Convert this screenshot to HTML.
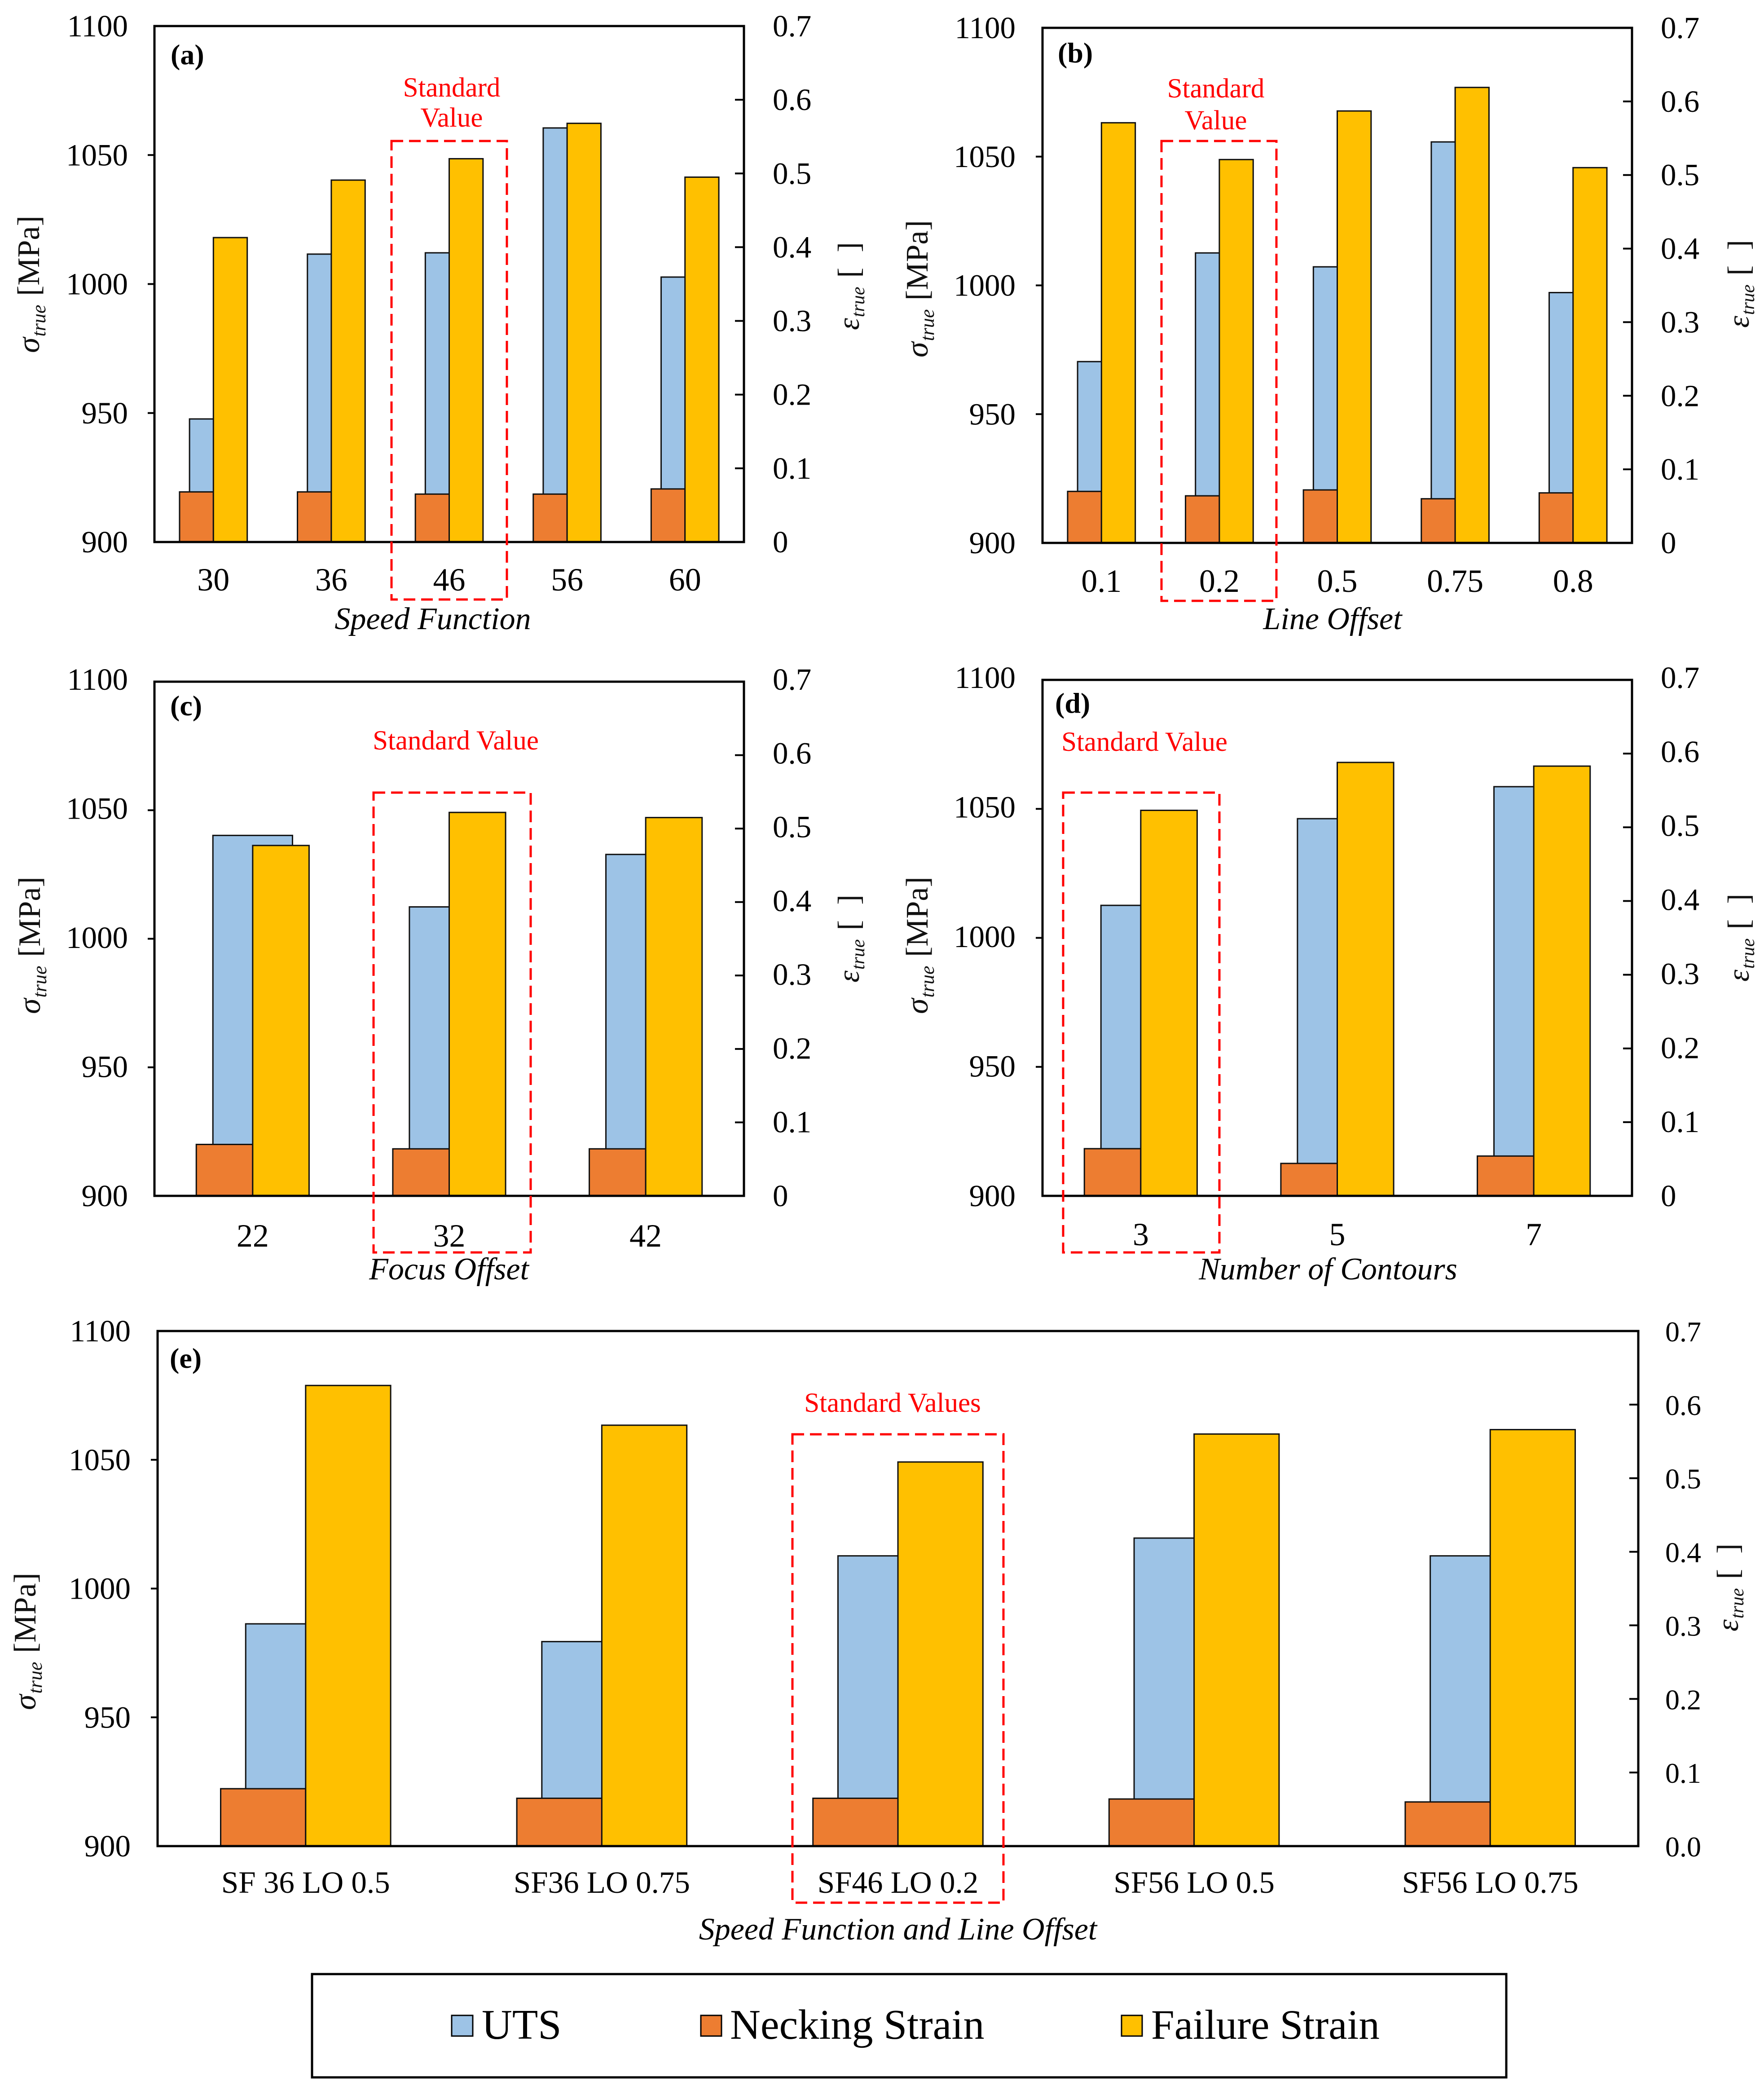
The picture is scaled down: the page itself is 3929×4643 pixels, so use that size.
<!DOCTYPE html>
<html lang="en">
<head>
<meta charset="utf-8">
<title>True stress and strain by process parameter</title>
<style>
html,body{margin:0;padding:0;background:#fff;}
svg{display:block;font-family:"Liberation Serif",serif;}
</style>
</head>
<body>
<svg id="figure" xmlns="http://www.w3.org/2000/svg" width="3929" height="4643" viewBox="0 0 3929 4643">
  <rect x="0" y="0" width="3929" height="4643" fill="#ffffff"/>
  <g id="panels"></g>
  <g>
    <rect x="695" y="4396" width="2660" height="230" fill="#ffffff" stroke="#000000" stroke-width="5"/>
    <g>
      <rect x="1006" y="4488" width="47" height="46" fill="#9DC3E6" stroke="#000" stroke-width="3"/>
      <text x="1073" y="4540" font-size="94">UTS</text>
    </g>
    <g>
      <rect x="1561" y="4488" width="46" height="46" fill="#ED7D31" stroke="#000" stroke-width="3"/>
      <text x="1626" y="4540" font-size="94">Necking Strain</text>
    </g>
    <g>
      <rect x="2498" y="4488" width="46" height="46" fill="#FFC000" stroke="#000" stroke-width="3"/>
      <text x="2564" y="4540" font-size="93">Failure Strain</text>
    </g>
  </g>
</svg>
<script>
// ---- chart data ----
const stressTicks = [900, 950, 1000, 1050, 1100];
const strainTicks = ['0', '0.1', '0.2', '0.3', '0.4', '0.5', '0.6', '0.7'];
const strainTicksE = ['0.0', '0.1', '0.2', '0.3', '0.4', '0.5', '0.6', '0.7'];

const categoriesA = ['30', '36', '46', '56', '60'];
const utsA = [947.7, 1011.6, 1012.1, 1060.5, 1002.7];
const neckingA = [0.068, 0.068, 0.065, 0.065, 0.072];
const failureA = [0.413, 0.491, 0.520, 0.568, 0.495];

const categoriesB = ['0.1', '0.2', '0.5', '0.75', '0.8'];
const utsB = [970.4, 1012.6, 1007.2, 1055.7, 997.2];
const neckingB = [0.070, 0.064, 0.072, 0.060, 0.068];
const failureB = [0.571, 0.521, 0.587, 0.619, 0.510];

const categoriesC = ['22', '32', '42'];
const utsC = [1040.2, 1012.4, 1032.8];
const neckingC = [0.070, 0.064, 0.064];
const failureC = [0.477, 0.522, 0.515];

const categoriesD = ['3', '5', '7'];
const utsD = [1012.6, 1046.2, 1058.6];
const neckingD = [0.064, 0.044, 0.054];
const failureD = [0.523, 0.588, 0.583];

const categoriesE = ['SF 36 LO 0.5', 'SF36 LO 0.75', 'SF46 LO 0.2', 'SF56 LO 0.5', 'SF56 LO 0.75'];
const utsE = [986.3, 979.4, 1012.7, 1019.6, 1012.7];
const neckingE = [0.078, 0.065, 0.065, 0.064, 0.060];
const failureE = [0.626, 0.572, 0.522, 0.560, 0.566];

// ---- drawing ----
const SVGNS = 'http://www.w3.org/2000/svg';
const STRESS_MIN = 900, STRESS_MAX = 1100, STRAIN_MAX = 0.7;
const UTS_WIDTH = 0.405, STRAIN_WIDTH = 0.287;
const root = document.getElementById('panels');

function make(tag, parent, attrs, name) {
  const el = document.createElementNS(SVGNS, tag);
  for (const k in attrs) el.setAttribute(k, attrs[k]);
  
  
  parent.appendChild(el);
  return el;
}
function addText(parent, x, y, str, size, anchor, style, name) {
  const attrs = {x: x, y: y, 'font-size': size, 'text-anchor': anchor};
  for (const k in style) attrs[k] = style[k];
  const t = make('text', parent, attrs, name);
  t.textContent = str;
  return t;
}
function span(parent, str, attrs, name) {
  const t = make('tspan', parent, attrs, name);
  t.textContent = str;
  return t;
}

function drawPanel(p) {
  const g = make('g', root, {}, 'panel-' + p.id);
  const width = p.right - p.left;
  const catW = width / p.categories.length;
  const xCat = i => p.left + catW * (i + 0.5);
  const yStress = v => p.bottom - (v - STRESS_MIN) / (STRESS_MAX - STRESS_MIN) * (p.bottom - p.top);
  const yStrain = v => p.bottom - v / STRAIN_MAX * (p.bottom - p.top);
  const labelY = y => y + 23 - p.labelLift * (p.bottom - y) / (p.bottom - p.top);

  const bars = make('g', g, {stroke: '#111', 'stroke-width': 3}, 'bars-' + p.id);
  p.uts.forEach((v, i) => {
    const w = UTS_WIDTH * catW;
    make('rect', bars, {x: xCat(i) - w / 2, y: yStress(v), width: w, height: p.bottom - yStress(v), fill: '#9DC3E6'}, 'bar-uts-' + p.id + '-' + i);
  });
  p.necking.forEach((v, i) => {
    const w = STRAIN_WIDTH * catW;
    make('rect', bars, {x: xCat(i) - w, y: yStrain(v), width: w, height: p.bottom - yStrain(v), fill: '#ED7D31'}, 'bar-necking-' + p.id + '-' + i);
  });
  p.failure.forEach((v, i) => {
    const w = STRAIN_WIDTH * catW;
    make('rect', bars, {x: xCat(i), y: yStrain(v), width: w, height: p.bottom - yStrain(v), fill: '#FFC000'}, 'bar-failure-' + p.id + '-' + i);
  });

  make('rect', g, {x: p.left, y: p.top, width: width, height: p.bottom - p.top, fill: 'none', stroke: '#000', 'stroke-width': 5}, 'plot-frame-' + p.id);

  stressTicks.forEach(v => {
    const y = yStress(v);
    if (v !== STRESS_MIN && v !== STRESS_MAX) {
      make('line', g, {x1: p.left - 15, x2: p.left, y1: y, y2: y, stroke: '#000', 'stroke-width': 4}, 'left-tick-' + p.id + '-' + v);
    }
    addText(g, p.leftLabelX, labelY(y), String(v), 69, 'end', {}, 'left-tick-label-' + p.id + '-' + v);
  });
  p.strainLabels.forEach((label, i) => {
    const y = yStrain(i / 10);
    if (i > 0 && i < p.strainLabels.length - 1) {
      make('line', g, {x1: p.right - 20, x2: p.right, y1: y, y2: y, stroke: '#000', 'stroke-width': 4}, 'right-tick-' + p.id + '-' + i);
    }
    addText(g, p.rightLabelX, labelY(y), label, p.id === 'e' ? 64 : 69, 'start', {}, 'right-tick-label-' + p.id + '-' + i);
  });
  p.categories.forEach((label, i) => {
    addText(g, xCat(i), p.catY, label, p.id === 'e' ? 69 : 72, 'middle', {}, 'x-tick-label-' + p.id + '-' + i);
  });

  addText(g, p.xTitleX, p.xTitleY, p.xTitle, 70, 'middle', {'font-style': 'italic'}, 'x-axis-title-' + p.id);
  addText(g, p.tagX, p.tagY, '(' + p.id + ')', 64, 'start', {'font-weight': 'bold'}, 'panel-tag-' + p.id);

  const yTitle = make('text', g, {transform: 'translate(' + p.yTitleX + ',' + p.yTitleY + ') rotate(-90)', 'font-size': 70, fill: '#111'}, 'y-axis-title-' + p.id);
  span(yTitle, 'σ', {'font-style': 'italic'}, 'y-axis-symbol-' + p.id);
  span(yTitle, 'true', {'font-style': 'italic', 'font-size': 44, dy: 14, dx: 2}, 'y-axis-subscript-' + p.id);
  span(yTitle, ' [MPa]', {dy: -14, dx: 2}, 'y-axis-unit-' + p.id);

  const rTitle = make('text', g, {transform: 'translate(' + p.rTitleX + ',' + p.rTitleY + ') rotate(-90)', 'font-size': 68, fill: '#111'}, 'right-axis-title-' + p.id);
  span(rTitle, 'ε', {'font-style': 'italic'}, 'right-axis-symbol-' + p.id);
  span(rTitle, 'true', {'font-style': 'italic', 'font-size': 42, dy: 12, dx: 2}, 'right-axis-subscript-' + p.id);
  span(rTitle, '[\u00A0\u00A0]', {dy: -12, dx: 20}, 'right-axis-unit-' + p.id);

  make('rect', g, {x: p.boxX, y: p.boxY, width: p.boxW, height: p.boxH, fill: 'none', stroke: '#FF0000', 'stroke-width': 5, 'stroke-dasharray': '26 13'}, 'standard-value-box-' + p.id);
  p.note.forEach((line, i) => {
    addText(g, p.noteX, p.noteYs[i], line, 61, 'middle', {fill: '#FF0000'}, 'standard-value-label-' + p.id + '-' + i);
  });
}

drawPanel({id: 'a', categories: categoriesA, uts: utsA, necking: neckingA, failure: failureA, strainLabels: strainTicks, labelLift: 0,
  left: 344, right: 1657, top: 58, bottom: 1207, leftLabelX: 285, rightLabelX: 1721, catY: 1315,
  xTitle: 'Speed Function', xTitleX: 964, xTitleY: 1401, tagX: 380, tagY: 143, yTitleX: 87, yTitleY: 786, rTitleX: 1913, rTitleY: 735,
  boxX: 872, boxY: 314, boxW: 257, boxH: 1021, note: ['Standard', 'Value'], noteX: 1006, noteYs: [215, 282]});

drawPanel({id: 'b', categories: categoriesB, uts: utsB, necking: neckingB, failure: failureB, strainLabels: strainTicks, labelLift: 0,
  left: 2322, right: 3635, top: 62, bottom: 1209, leftLabelX: 2262, rightLabelX: 3699, catY: 1318,
  xTitle: 'Line Offset', xTitleX: 2968, xTitleY: 1401, tagX: 2356, tagY: 139, yTitleX: 2066, yTitleY: 796, rTitleX: 3895, rTitleY: 730,
  boxX: 2587, boxY: 314, boxW: 256, boxH: 1024, note: ['Standard', 'Value'], noteX: 2708, noteYs: [217, 288]});

drawPanel({id: 'c', categories: categoriesC, uts: utsC, necking: neckingC, failure: failureC, strainLabels: strainTicks, labelLift: 5,
  left: 344, right: 1657, top: 1518, bottom: 2663, leftLabelX: 285, rightLabelX: 1721, catY: 2776,
  xTitle: 'Focus Offset', xTitleX: 1000, xTitleY: 2849, tagX: 379, tagY: 1593, yTitleX: 89, yTitleY: 2258, rTitleX: 1913, rTitleY: 2188,
  boxX: 832, boxY: 1765, boxW: 350, boxH: 1024, note: ['Standard Value'], noteX: 1015, noteYs: [1669]});

drawPanel({id: 'd', categories: categoriesD, uts: utsD, necking: neckingD, failure: failureD, strainLabels: strainTicks, labelLift: 5,
  left: 2322, right: 3635, top: 1514, bottom: 2663, leftLabelX: 2262, rightLabelX: 3699, catY: 2773,
  xTitle: 'Number of Contours', xTitleX: 2958, xTitleY: 2849, tagX: 2350, tagY: 1587, yTitleX: 2066, yTitleY: 2258, rTitleX: 3895, rTitleY: 2186,
  boxX: 2368, boxY: 1765, boxW: 348, boxH: 1024, note: ['Standard Value'], noteX: 2549, noteYs: [1672]});

drawPanel({id: 'e', categories: categoriesE, uts: utsE, necking: neckingE, failure: failureE, strainLabels: strainTicksE, labelLift: 0,
  left: 351, right: 3649, top: 2964, bottom: 4111, leftLabelX: 291, rightLabelX: 3709, catY: 4215,
  xTitle: 'Speed Function and Line Offset', xTitleX: 2000, xTitleY: 4319, tagX: 378, tagY: 3046, yTitleX: 79, yTitleY: 3808, rTitleX: 3871, rTitleY: 3633,
  boxX: 1765, boxY: 3194, boxW: 470, boxH: 1043, note: ['Standard Values'], noteX: 1988, noteYs: [3144]});
</script>
</body>
</html>
